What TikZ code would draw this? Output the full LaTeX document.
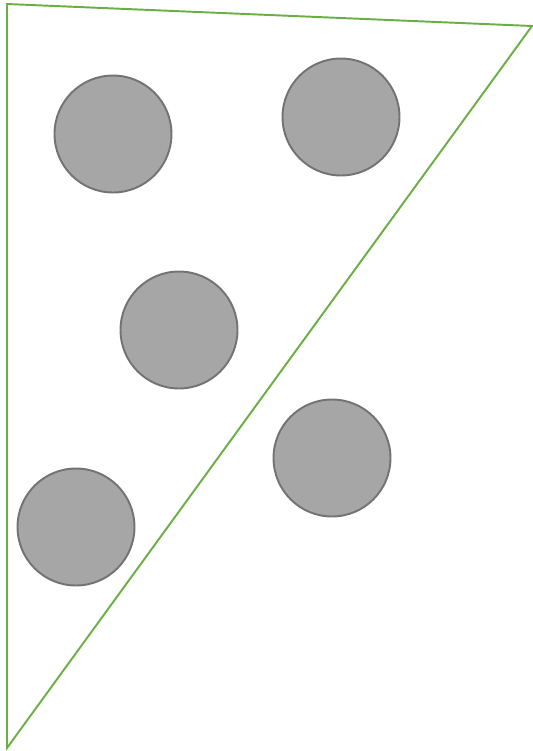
\documentclass[tikz,border=0pt]{standalone}
\usepackage{tikz}
\usetikzlibrary{positioning}
\definecolor{trigreen}{HTML}{6AAE45}
\definecolor{dotfill}{HTML}{A6A6A6}
\definecolor{dotline}{HTML}{737373}

\begin{document}
\begin{tikzpicture}[
    x=0.02cm, y=-0.02cm,
    dot/.style={
        circle, draw=dotline, fill=dotfill,
        line width=1.1pt, minimum size=2.34cm,
        inner sep=0pt
    },
    edge/.style={draw=trigreen, line width=1.1pt, line join=miter}
]
\useasboundingbox (0,0) rectangle (533,751);

\coordinate (tl) at (7,4);
\coordinate (tr) at (532,26);
\coordinate (bl) at (7,748);
\draw[edge] (tl) -- (tr) -- (bl) -- cycle;

\node[dot] (d1) at (113,134) {};
\node[dot] (d2) at (341,117) {};
\node[dot] (d3) at (179,330) {};
\node[dot] (d4) at (332,458) {};
\node[dot] (d5) at (76,527)  {};
\end{tikzpicture}
\end{document}
